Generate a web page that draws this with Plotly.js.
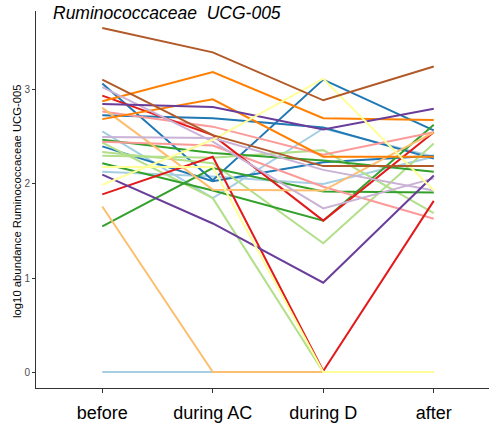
<!DOCTYPE html>
<html>
<head>
<meta charset="utf-8">
<script src="https://cdn.plot.ly/plotly-3.0.1.min.js"></script>
<style>html,body{margin:0;padding:0;background:#fff;}#chart{width:489px;height:427px;}</style>
</head>
<body>
<div id="chart"></div>
<script>
// Timepoints
var timepoints = ["before", "during AC", "during D", "after"];

// log10 abundance per subject (before, during AC, during D, after)
var lightBlueA   = [2.56, 1.85, 2.59, 2.29];
var lightBlueB   = [2.13, 2.08, 2.00, 2.29];
var lightBlueC   = [0, 0, 0, 0];
var blueA        = [3.07, 2.04, 3.11, 2.57];
var blueB        = [2.73, 2.70, 2.60, 2.27];
var blueC        = [2.40, 2.03, 2.23, 2.30];
var lightGreenA  = [2.34, 2.22, 1.37, 2.43];
var lightGreenB  = [2.44, 1.85, 0, 0];
var lightGreenC  = [2.30, 2.28, 2.36, 1.69];
var greenA       = [2.47, 2.33, 2.25, 2.13];
var greenB       = [2.22, 1.93, 1.61, 2.63];
var greenC       = [1.55, 2.17, 1.92, 1.91];
var pinkA        = [2.77, 2.61, 2.31, 2.55];
var pinkB        = [2.45, 2.41, 1.97, 1.63];
var redA         = [2.94, 2.52, 1.61, 2.55];
var redB         = [1.89, 2.29, 0.01, 1.82];
var lightOrangeA = [1.76, 0, 0, 0];
var lightOrangeB = [2.81, 1.94, 1.93, 2.55];
var orangeA      = [2.88, 3.19, 2.70, 2.68];
var orangeB      = [2.69, 2.90, 2.29, 2.29];
var lightPurpleA = [3.03, 2.45, 1.74, 2.06];
var lightPurpleB = [2.50, 2.49, 2.15, 1.93];
var purpleA      = [2.85, 2.82, 2.58, 2.80];
var purpleB      = [2.10, 1.58, 0.95, 2.09];
var yellowA      = [1.99, 2.47, 3.12, 1.93];
var yellowB      = [2.18, 2.18, 0, 0];
var brownA       = [3.66, 3.40, 2.89, 3.25];
var brownB       = [3.11, 2.52, 2.19, 2.19];

var series = [lightBlueA, lightBlueB, lightBlueC, blueA, blueB, blueC,
  lightGreenA, lightGreenB, lightGreenC, greenA, greenB, greenC,
  pinkA, pinkB, redA, redB, lightOrangeA, lightOrangeB, orangeA, orangeB,
  lightPurpleA, lightPurpleB, purpleA, purpleB, yellowA, yellowB, brownA, brownB];
var colors = ["#A6CEE3","#A6CEE3","#A6CEE3","#1F78B4","#1F78B4","#1F78B4",
  "#B2DF8A","#B2DF8A","#B2DF8A","#33A02C","#33A02C","#33A02C",
  "#FB9A99","#FB9A99","#E31A1C","#E31A1C","#FDBF6F","#FDBF6F","#FF7F00","#FF7F00",
  "#CAB2D6","#CAB2D6","#6A3D9A","#6A3D9A","#FFFF99","#FFFF99","#B15928","#B15928"];

var traces = series.map(function (s, i) {
  return {
    type: "scatter", mode: "lines",
    x: timepoints, y: s,
    line: {color: colors[i], width: 2},
    showlegend: false, hoverinfo: "skip"
  };
});

var font = "Liberation Sans, Arial, Helvetica, sans-serif";
var layout = {
  width: 489, height: 427,
  margin: {l: 36, r: 0, t: 11, b: 39, pad: 0},
  paper_bgcolor: "#fff", plot_bgcolor: "#fff",
  showlegend: false,
  font: {family: font},
  xaxis: {
    type: "category", range: [-0.6, 3.5],
    showline: true, linecolor: "#333", linewidth: 1,
    showgrid: false, zeroline: false,
    ticks: "outside", ticklen: 4, tickcolor: "#333", tickwidth: 1,
    ticklabelstandoff: 4,
    tickfont: {size: 18, color: "#000", family: font}
  },
  yaxis: {
    range: [-0.17, 3.84],
    tickvals: [0, 1, 2, 3], ticktext: ["0", "1", "2", "3"],
    showline: true, linecolor: "#333", linewidth: 1,
    showgrid: false, zeroline: false,
    ticks: "outside", ticklen: 3, tickcolor: "#333", tickwidth: 1,
    tickfont: {size: 10, color: "#4d4d4d", family: font}
  },
  annotations: [
    {text: "<i>Ruminococcaceae  UCG-005</i>", xref: "paper", yref: "paper",
     x: 0.033, y: 0.9947, xanchor: "left", yanchor: "middle", showarrow: false,
     font: {size: 17.5, color: "#000", family: font}},
    {text: "log10 abundance Ruminococcaceae UCG-005", xref: "paper", yref: "paper",
     x: -0.042, y: 0.496, xanchor: "center", yanchor: "middle", textangle: -90,
     showarrow: false, font: {size: 11.3, color: "#000", family: font}}
  ]
};

Plotly.newPlot("chart", traces, layout, {displayModeBar: false, staticPlot: true});
</script>
</body>
</html>
